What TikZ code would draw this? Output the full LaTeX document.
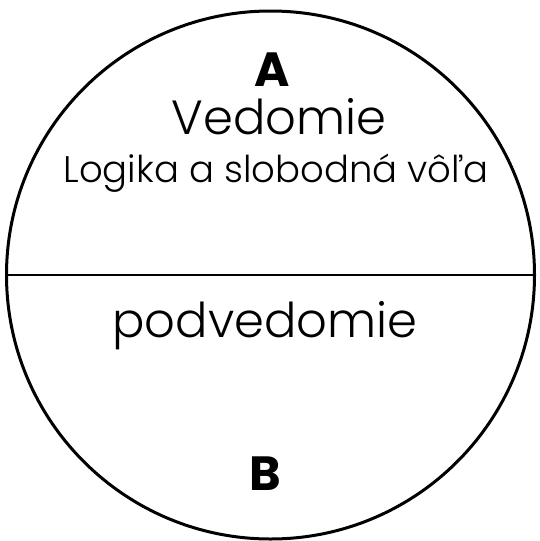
\documentclass[tikz,border=0pt]{standalone}
\usepackage{fontspec}
\setmainfont{Poppins}
\newfontfamily\lightfont{Poppins Light}
\begin{document}
\begin{tikzpicture}[x=1pt,y=-1pt,
  lbl/.style={anchor=base,inner sep=0pt,text=black},
  bigl/.style={lbl,font=\fontsize{48}{48}\selectfont\bfseries},
  mainl/.style={lbl,font=\lightfont\fontsize{48}{48}\selectfont},
  subl/.style={lbl,font=\lightfont\fontsize{37}{37}\selectfont}]
\useasboundingbox (0,0) rectangle (539,541);
\fill[white] (0,0) rectangle (539,541);
\node[circle,draw=black,line width=3pt,minimum size=528pt,inner sep=0pt] (c) at (270.5,275) {};
\draw[line width=2.8pt] (c.west) -- (c.east);
\node[bigl] (a) at (272,86) {A};
\node[mainl] (v) at (279,134) {Vedomie};
\node[subl] (l) at (276,182) {Logika a slobodná vôľa};
\node[mainl] (p) at (265,337) {podvedomie};
\node[bigl] (b) at (265,490) {B};
\end{tikzpicture}
\end{document}
